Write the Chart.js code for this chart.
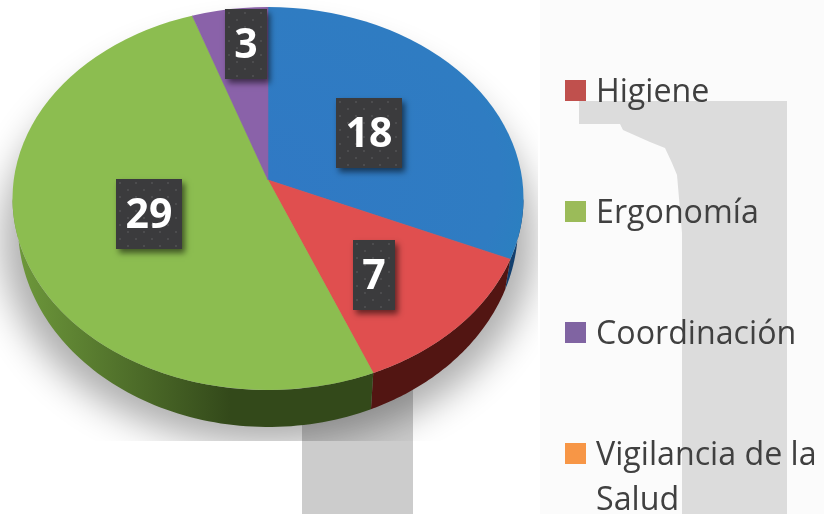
<!DOCTYPE html>
<html lang="es">
<head>
<meta charset="utf-8">
<script src="https://cdn.jsdelivr.net/npm/chart.js@4"></script>
<style>
html,body{margin:0;padding:0;width:824px;height:514px;overflow:hidden;background:#fff;}
#stage{position:relative;width:824px;height:514px;overflow:hidden;font-family:"Open Sans",sans-serif;}
#paneR{position:absolute;left:540px;top:0;width:284px;height:514px;background:#fbfbfb;}
#barR{position:absolute;left:579px;top:101px;width:208px;height:413px;background:#dcdcdc;
 clip-path:polygon(0 0,100% 0,100% 100%,103px 100%,103px 132px,98px 74px,93px 62px,86px 47px,71px 41px,44px 29px,41px 23px,0 23px);}
#barB{position:absolute;left:302px;top:380px;width:111px;height:134px;background:#cccccc;}
canvas{position:absolute;left:0;top:0;}
#legend{position:absolute;left:565px;top:0;width:259px;height:514px;color:#404040;font-size:32.2px;line-height:45px;}
.item{position:absolute;left:0;width:259px;}
.sw{position:absolute;left:0;width:21px;height:21px;}
.tx{position:absolute;left:31px;width:228px;white-space:normal;}
</style>
</head>
<body>
<div id="stage">
  <div id="paneR"></div>
  <div id="barR"></div>
  <div id="barB"></div>
  <canvas id="c" width="824" height="514"></canvas>
  <div id="legend"></div>
</div>
<script>
const categories = ['', 'Higiene', 'Ergonomía', 'Coordinación', 'Vigilancia de la Salud'];
const values = [18, 7, 29, 3, 0];
const faceColors = ['#2d80c2', '#e04f4f', '#8cbd50', '#8a62a9', '#f79646'];
const legendColors = ['#4f81bd', '#c0504d', '#9bbb59', '#8064a2', '#f79646'];
const sideStops = [
  ['#123f6e', '#123f6e'],
  ['#5a1814', '#521512'],
  ['#6f9a3c', '#33491a'],
  ['#5a3a70', '#5a3a70'],
  ['#a8641f', '#a8641f']
];
// fraction of the radius (x, y) at which each value label sits along its slice's mid-angle
const labelFractions = [[.473,.452],[.596,.697],[.498,.508],[.523,.726],[0,0]];

// tilted view: apex sits above the centre of the elliptical top face; the base ellipse is narrower
const view = {apexX:268, apexY:180, tilt:.745, zoom:1.3, cx:268, cy:198.5, rx:255.5, ry:191.5,
              baseCy:226, baseRx:250, baseRy:201};

function rim(a){
  const dx=Math.cos(a), dy=view.tilt*Math.sin(a);
  const ox=(view.apexX-view.cx)/view.rx, oy=(view.apexY-view.cy)/view.ry;
  const ux=dx/view.rx, uy=dy/view.ry;
  const A=ux*ux+uy*uy, B=2*(ox*ux+oy*uy), C=ox*ox+oy*oy-1;
  const t=(-B+Math.sqrt(B*B-4*A*C))/(2*A);
  return [view.apexX+t*dx, view.apexY+t*dy];
}
function baseRim(p){
  return [view.cx+(p[0]-view.cx)/view.rx*view.baseRx, view.baseCy+(p[1]-view.cy)/view.ry*view.baseRy];
}
const sideFrom=Math.atan2((view.cy-view.apexY)/view.tilt, view.rx);
const pie3d = {
  id:'pie3d',
  beforeDatasetsDraw(chart){
    const ctx=chart.ctx, arcs=chart.getDatasetMeta(0).data, first=arcs[0];
    // cast shadow (shape kept off-canvas so only its blur shows)
    ctx.save();
    ctx.beginPath();ctx.rect(0,0,538,441);ctx.clip();
    ctx.shadowColor='rgba(0,0,0,.32)';ctx.shadowBlur=36;ctx.shadowOffsetX=2000;
    ctx.fillStyle='#000';
    ctx.beginPath();ctx.ellipse(view.cx-2000,240,266,205,0,0,Math.PI*2);ctx.fill();
    ctx.restore();
    // side wall
    arcs.forEach((arc,i)=>{
      const a0=Math.max(arc.startAngle,sideFrom),a1=Math.min(arc.endAngle,Math.PI-sideFrom);
      if(a1<=a0||arc.circumference===0)return;
      const g=ctx.createLinearGradient(view.cx-view.rx,0,230,0);
      g.addColorStop(0,sideStops[i][0]);g.addColorStop(1,sideStops[i][1]);
      ctx.fillStyle=g;
      ctx.beginPath();
      const n=80;
      for(let k=0;k<=n;k++){const p=rim(a0+(a1-a0)*k/n);k?ctx.lineTo(p[0],p[1]):ctx.moveTo(p[0],p[1]);}
      for(let k=n;k>=0;k--){const p=baseRim(rim(a0+(a1-a0)*k/n));ctx.lineTo(p[0],p[1]);}
      ctx.closePath();ctx.fill();
    });
    // top face
    ctx.save();
    ctx.beginPath();ctx.ellipse(view.cx,view.cy,view.rx,view.ry,0,0,Math.PI*2);ctx.clip();
    ctx.translate(view.apexX,view.apexY);ctx.scale(view.zoom,view.zoom*view.tilt);ctx.translate(-first.x,-first.y);
    arcs.forEach(a=>a.draw(ctx));
    ctx.restore();
    return false;
  },
  afterDraw(chart){
    const ctx=chart.ctx, arcs=chart.getDatasetMeta(0).data;
    ctx.save();
    ctx.font='bold 41px "Open Sans", sans-serif';
    ctx.textAlign='center';ctx.textBaseline='middle';
    arcs.forEach((arc,i)=>{
      if(!values[i])return;
      const mid=(arc.startAngle+arc.endAngle)/2;
      const x=view.apexX+arc.outerRadius*labelFractions[i][0]*Math.cos(mid);
      const y=view.apexY+arc.outerRadius*view.tilt*labelFractions[i][1]*Math.sin(mid);
      const t=String(values[i]);
      const w=Math.round(ctx.measureText(t).width)+19,h=70;
      const L=Math.round(x-w/2),T=Math.round(y-h/2);
      ctx.save();
      ctx.shadowColor='rgba(0,0,0,.55)';ctx.shadowBlur=6;ctx.shadowOffsetX=3;ctx.shadowOffsetY=4;
      ctx.fillStyle='#3b3b3d';ctx.fillRect(L,T,w,h);
      ctx.restore();
      ctx.fillStyle='#4c4c4e';
      for(let r=0;r*7+4<h;r++)for(let c=0;c*8+3<w;c++){
        if((r+c)%2===0)ctx.fillRect(L+c*8+3,T+r*7+3,2,2);
      }
      ctx.fillStyle='#fff';
      ctx.fillText(t,L+w/2,T+h/2+2);
    });
    ctx.restore();
  }
};

function faceFill(c){
  const area=c.chart.chartArea;
  if(c.dataIndex!==0||!area)return faceColors[c.dataIndex];
  const x=(area.left+area.right)/2,y=(area.top+area.bottom)/2;
  const g=c.chart.ctx.createRadialGradient(x,y,0,x,y,area.width*.5);
  g.addColorStop(0,'#3079c4');g.addColorStop(.7,'#2f7cc2');g.addColorStop(1,'#2287bc');
  return g;
}
const chart = new Chart(document.getElementById('c'),{
  type:'pie',
  data:{labels:categories,datasets:[{data:values,backgroundColor:faceFill,borderColor:faceColors,borderWidth:.5}]},
  options:{
    responsive:false,animation:false,
    layout:{padding:{left:12,right:300,top:1,bottom:2}},
    plugins:{legend:{display:false},tooltip:{enabled:false}}
  },
  plugins:[pie3d]
});

const legendEl=document.getElementById('legend');
const legendTop=[0,80,201,322,443];
categories.forEach((name,i)=>{
  if(!name)return;
  const it=document.createElement('div');it.className='item';
  const sw=document.createElement('div');sw.className='sw';sw.style.top=legendTop[i]+'px';sw.style.background=legendColors[i];
  const tx=document.createElement('div');tx.className='tx';tx.style.top=(legendTop[i]-13)+'px';tx.textContent=name;
  it.append(sw,tx);legendEl.append(it);
});
</script>
</body>
</html>
